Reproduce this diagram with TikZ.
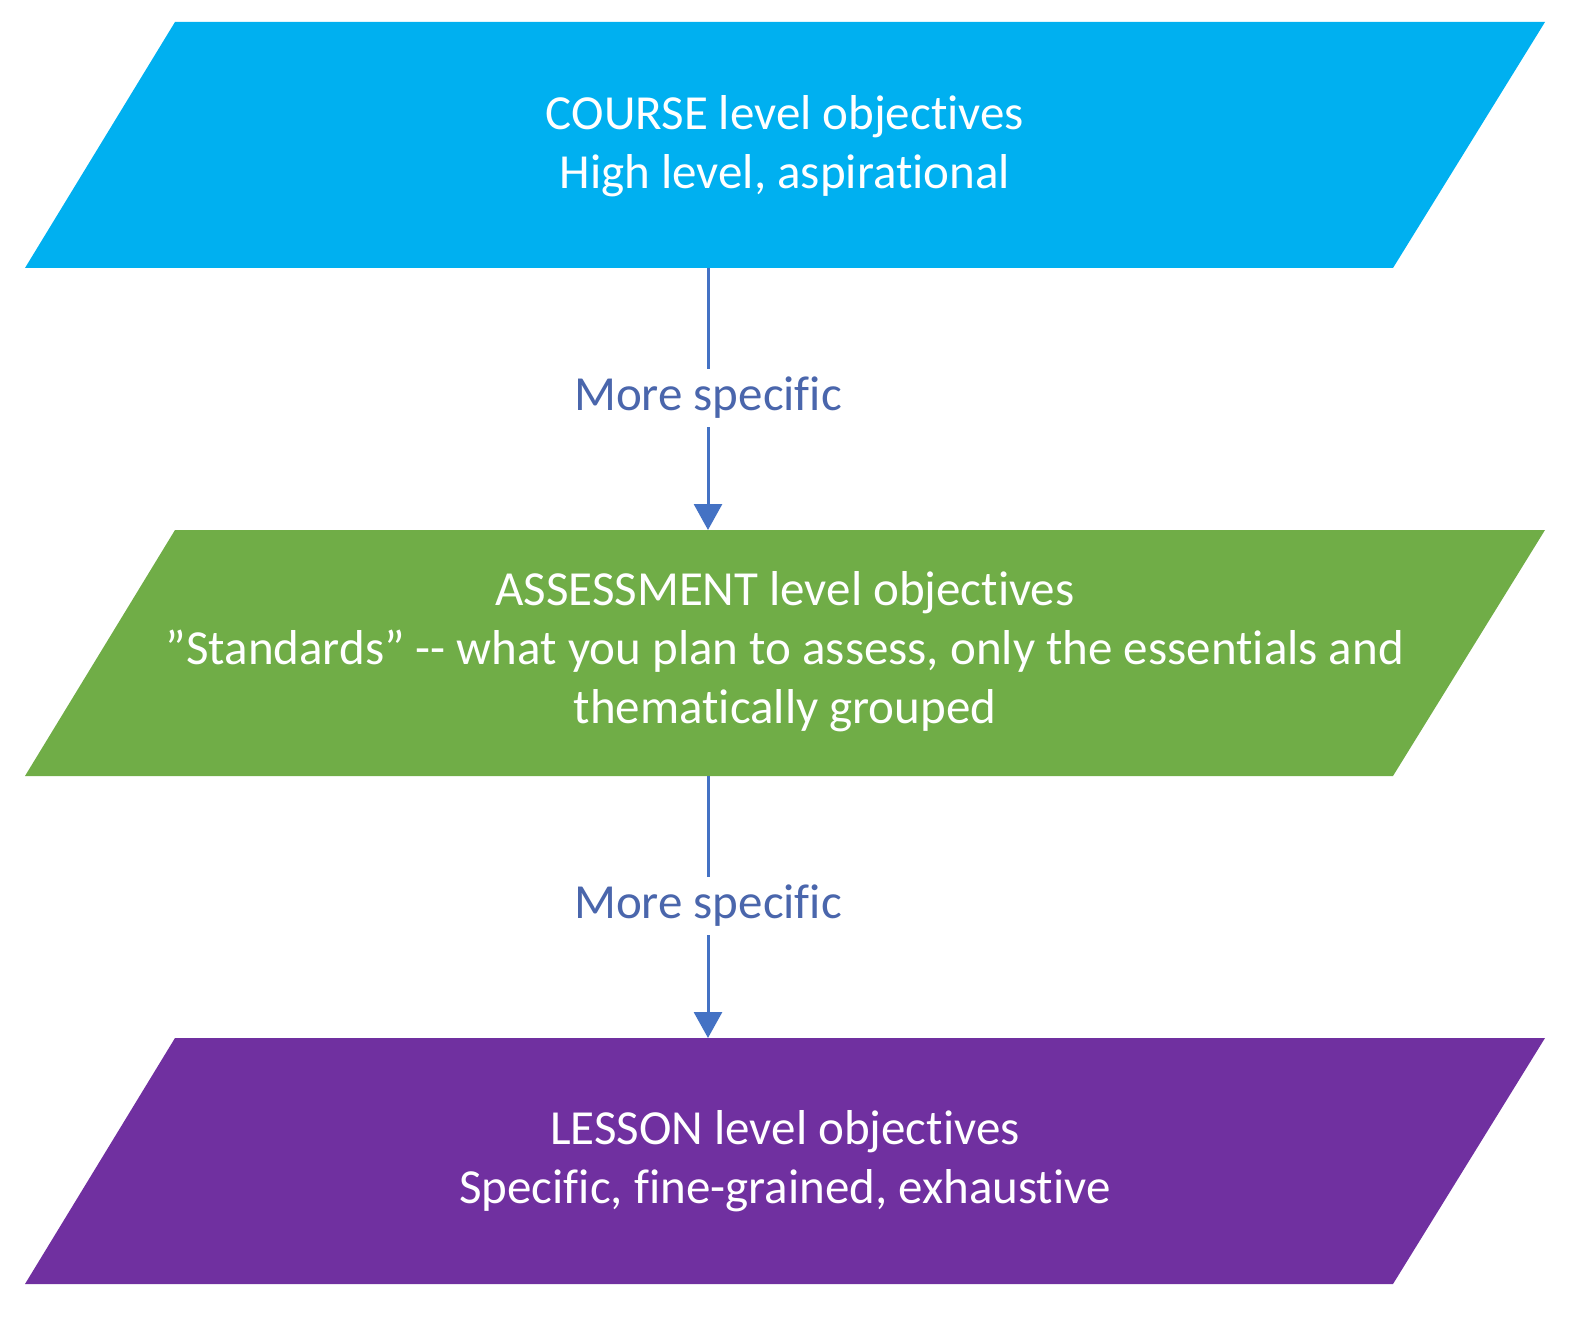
\documentclass[tikz,border=0pt]{standalone}
\usepackage{fontspec}
\setmainfont[Ligatures={NoCommon}]{Carlito}
\usetikzlibrary{arrows.meta}
\definecolor{cA}{HTML}{00B0F0}
\definecolor{cB}{HTML}{70AD47}
\definecolor{cC}{HTML}{7030A0}
\definecolor{cL}{HTML}{4472C4}
\definecolor{cT}{HTML}{4A66AC}
\tikzset{
  boxtext/.style={text=white,align=center,font=\fontsize{49}{59}\selectfont},
  conn/.style={draw=cL,line width=3pt,-{Triangle[width=28pt,length=26pt]}},
  lbl/.style={fill=white,text=cT,font=\fontsize{49}{59}\selectfont,inner sep=8pt}
}
\begin{document}
\begin{tikzpicture}[x=1pt,y=-1pt]
\useasboundingbox (0,0) rectangle (1585,1321);
\fill[cA] (175,22) -- (1545,22) -- (1393,268) -- (25,268) -- cycle;
\fill[cB] (175,530) -- (1545,530) -- (1393,776) -- (25,776) -- cycle;
\fill[cC] (175,1038) -- (1545,1038) -- (1393,1284) -- (25,1284) -- cycle;
\node[boxtext] (t1) at (785,146) {COURSE level objectives\\High level, aspirational};
\node[boxtext] (t2) at (785,652) {ASSESSMENT level objectives\\\symbol{34}Standards\symbol{34} -{}- what you plan to assess, only the essentials and\\thematically grouped};
\node[boxtext] (t3) at (785,1161) {LESSON level objectives\\Specific, fine-grained, exhaustive};
\coordinate (b1s) at (708,268);
\coordinate (b2n) at (708,530);
\coordinate (b2s) at (708,776);
\coordinate (b3n) at (708,1038);
\draw[conn] (b1s) -- (b2n);
\draw[conn] (b2s) -- (b3n);
\node[lbl] (l1) at (708,398) {More specific};
\node[lbl] (l2) at (708,906) {More specific};
\end{tikzpicture}
\end{document}
